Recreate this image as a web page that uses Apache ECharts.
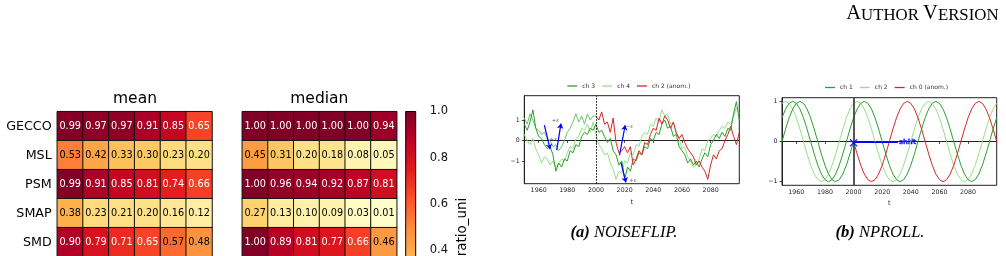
<!DOCTYPE html>
<html><head><meta charset="utf-8">
<script src="https://cdn.jsdelivr.net/npm/echarts@6/dist/echarts.min.js"></script>
<style>html,body{margin:0;padding:0;background:#fff}#c{width:1006px;height:256px}</style>
</head><body><div id="c"></div>
<script>
// ---------- heatmap data ----------
const rows = ['GECCO', 'MSL', 'PSM', 'SMAP', 'SMD'];
const cols = ['c0', 'c1', 'c2', 'c3', 'c4', 'c5'];
const meanVals = [
  [0.99, 0.97, 0.97, 0.91, 0.85, 0.65],
  [0.53, 0.42, 0.33, 0.30, 0.23, 0.20],
  [0.99, 0.91, 0.85, 0.81, 0.74, 0.66],
  [0.38, 0.23, 0.21, 0.20, 0.16, 0.12],
  [0.90, 0.79, 0.71, 0.65, 0.57, 0.48]
];
const medianVals = [
  [1.00, 1.00, 1.00, 1.00, 1.00, 0.94],
  [0.45, 0.31, 0.20, 0.18, 0.08, 0.05],
  [1.00, 0.96, 0.94, 0.92, 0.87, 0.81],
  [0.27, 0.13, 0.10, 0.09, 0.03, 0.01],
  [1.00, 0.89, 0.81, 0.77, 0.66, 0.46]
];
const cbarMin = 0, cbarMax = 1, cbarStep = 0.2;
const ylorrd = ['#ffffcc', '#ffeda0', '#fed976', '#feb24c', '#fd8d3c', '#fc4e2a', '#e31a1c', '#bd0026', '#800026'];

// ---------- (a) NOISEFLIP ----------
const yearsA = [1950,1952,1954,1956,1958,1960,1962,1964,1966,1968,1970,1972,1974,1976,1978,1980,1982,1984,1986,1988,1990,1992,1994,1996,1998,2000,
  2002,2004,2006,2008,2010,2012,2014,2016,2018,2020,2022,2024,2026,2028,2030,2032,2034,2036,2038,2040,2042,2044,2046,2048,2050,
  2052,2054,2056,2058,2060,2062,2064,2066,2068,2070,2072,2074,2076,2078,2080,2082,2084,2086,2088,2090,2092,2094,2096,2098,2100];
const ch3A = [0.8,0.5,0.9,1.5,0.6,0.2,0.1,-0.2,-0.4,-0.3,-0.7,-1.5,-1.1,-1.3,-0.9,-1.0,-0.5,-0.6,-0.2,-0.3,0.2,0.4,0.3,0.6,0.5,0.8,
  0.4,0.5,0.2,-0.1,0.1,-0.5,-0.7,-1.2,-1.0,-1.9,-1.3,-1.5,-0.9,-1.0,-0.6,-0.7,-0.3,-0.4,0.1,0.0,0.4,0.3,0.8,1.0,0.6,
  0.7,0.2,0.3,-0.3,-0.5,-0.7,-1.1,-0.9,-1.2,-1.0,-1.3,-0.9,-0.6,-0.8,-0.2,0.0,0.3,0.1,0.4,0.2,0.6,0.5,1.3,1.9,1.0];
const ch4A = [0.3,0.0,-0.2,0.1,-0.4,-0.7,-1.1,-0.8,-0.9,-1.2,-1.0,-1.3,-1.1,-0.9,-1.0,-0.6,-0.3,-0.4,0.1,0.2,0.6,0.5,0.8,0.4,0.9,0.3,
  -0.2,-0.4,-0.7,-0.6,-1.1,-1.4,-1.9,-1.5,-1.6,-1.0,-1.1,-0.6,-0.7,-0.2,-0.3,0.2,0.4,0.3,0.8,0.7,1.1,0.9,1.5,1.2,1.3,
  0.8,0.9,0.3,0.1,-0.4,-0.3,-0.8,-1.0,-1.3,-1.2,-0.9,-0.4,-0.5,0.0,0.1,0.3,0.2,0.5,0.7,0.6,0.9,0.8,1.2,1.6,1.3];
const ch2PreA = [1.1,0.8,1.3,1.0,0.6,0.5,0.3,0.4,0.1,0.0,-0.3,-0.2,-0.5,-0.3,0.0,0.4,0.6,0.9,1.3,0.9,1.2,0.8,1.3,1.0,1.2,1.2];
const ch2AnomA = [1.2,1.0,1.4,0.8,0.9,0.4,1.1,-0.1,-0.6,-0.5,-0.3,-0.6,-0.3,-1.2,-0.9,-0.5,-0.7,-0.1,-0.2,0.3,0.6,
  0.5,1.1,0.8,1.2,1.0,0.6,0.9,0.4,0.1,0.3,-0.1,-0.4,-0.6,-0.8,-1.2,-1.0,-1.3,-1.5,-1.9,-1.2,
  -0.7,-0.9,-0.5,-0.4,0.0,0.3,0.7,0.2,-0.2,0.4];
const anomStart = 2000;
const arrowsA = [[1964.0, 0.75, 1968.0, -0.42], [1972.6, -0.47, 1975.6, 0.83], [2016.4, -0.72, 2020.4, 0.75], [2017.4, -1.07, 2020.9, -2.05]];
const epsLabelsA = [[1970.3, 0.07, '+ε'], [1971.8, 0.98, '+ε'], [2023.4, 0.67, '−ε'], [2025.8, -1.98, '+ε']];
const xTicks = [1960, 1980, 2000, 2020, 2040, 2060, 2080];
const yTicks = [-1, 0, 1];

// ---------- (b) NPROLL ----------
const yearsB = [1950,1952.5,1955,1957.5,1960,1962.5,1965,1967.5,1970,1972.5,1975,1977.5,1980,1982.5,1985,1987.5,1990,1992.5,1995,1997.5,2000,
  2002.5,2005,2007.5,2010,2012.5,2015,2017.5,2020,2022.5,2025,2027.5,2030,2032.5,2035,2037.5,2040,2042.5,2045,2047.5,2050,
  2052.5,2055,2057.5,2060,2062.5,2065,2067.5,2070,2072.5,2075,2077.5,2080,2082.5,2085,2087.5,2090,2092.5,2095,2097.5,2100];
const ch2B = [0.95,1.00,0.95,0.81,0.59,0.31,0.00,-0.31,-0.59,-0.81,-0.95,-1.00,-0.95,-0.81,-0.59,-0.31,0.00,0.31,0.59,0.81,0.95,
  1.00,0.95,0.81,0.59,0.31,0.00,-0.31,-0.59,-0.81,-0.95,-1.00,-0.95,-0.81,-0.59,-0.31,0.00,0.31,0.59,0.81,0.95,
  1.00,0.95,0.81,0.59,0.31,0.00,-0.31,-0.59,-0.81,-0.95,-1.00,-0.95,-0.81,-0.59,-0.31,0.00,0.31,0.59,0.81,0.95];
const ch1B = [0.59,0.81,0.95,1.00,0.95,0.81,0.59,0.31,0.00,-0.31,-0.59,-0.81,-0.95,-1.00,-0.95,-0.81,-0.59,-0.31,0.00,0.31,0.59,
  0.81,0.95,1.00,0.95,0.81,0.59,0.31,0.00,-0.31,-0.59,-0.81,-0.95,-1.00,-0.95,-0.81,-0.59,-0.31,0.00,0.31,0.59,
  0.81,0.95,1.00,0.95,0.81,0.59,0.31,0.00,-0.31,-0.59,-0.81,-0.95,-1.00,-0.95,-0.81,-0.59,-0.31,0.00,0.31,0.59];
const ch0PreB = [0.00,0.31,0.59,0.81,0.95,1.00,0.95,0.81,0.59,0.31,0.00,-0.31,-0.59,-0.81,-0.95,-1.00,-0.95,-0.81,-0.59,-0.31,0.00];
const ch0AnomB = [0.00,-0.31,-0.59,-0.81,-0.95,-1.00,-0.95,-0.81,-0.59,-0.31,0.00,0.31,0.59,0.81,0.95,1.00,0.95,0.81,0.59,0.31,0.00,
  -0.31,-0.59,-0.81,-0.95,-1.00,-0.95,-0.81,-0.59,-0.31,0.00,0.31,0.59,0.81,0.95,1.00,0.95,0.81,0.59,0.31,0.00];
const shiftB = {x: 2000, y: -0.03, textX: 2031};

// ---------- build ----------
const zip = (xs, ys) => ys.map((v, i) => [xs[i], v]);
function heatData(vals) {
  const out = [];
  vals.forEach((row, r) => row.forEach((v, c) => out.push({value: [c, r, v], label: {color: v > 0.6 ? '#fff' : '#000'}})));
  return out;
}
const FONT = 'DejaVu Sans';
const DG = '#2ca02c', LG = '#98df8a', RD = '#d62728', BL = '#0000ff';
const minus = v => String(v).replace('-', '\u2212');

function lineAxesX(gi) {
  return {gridIndex: gi, type: 'value', min: 1950, max: 2100,
    axisLine: {show: true, lineStyle: {color: '#222', width: 1}},
    axisTick: {show: true, length: 2.5, customValues: xTicks, lineStyle: {color: '#222', width: 0.8}},
    axisLabel: {customValues: xTicks, fontSize: 6.3, color: '#222', margin: 4, fontFamily: FONT, formatter: v => String(v)},
    splitLine: {show: false},
    name: 't', nameLocation: 'middle', nameGap: 15, nameTextStyle: {fontSize: 6.5, color: '#222', fontFamily: FONT}};
}
function lineAxesY(gi, mn, mx) {
  return {gridIndex: gi, type: 'value', min: mn, max: mx,
    axisLine: {show: true, lineStyle: {color: '#222', width: 1}},
    axisTick: {show: true, length: 2.5, customValues: yTicks, lineStyle: {color: '#222', width: 0.8}},
    axisLabel: {customValues: yTicks, fontSize: 6.3, color: '#222', margin: 4.5, fontFamily: FONT, formatter: minus},
    splitLine: {show: false}};
}
function lineSeries(name, data, color, xi, extra) {
  return Object.assign({type: 'line', name, data, xAxisIndex: xi, yAxisIndex: xi, symbol: 'none',
    lineStyle: {color, width: 1}, itemStyle: {color}, emphasis: {disabled: true}, silent: true}, extra || {});
}
const OB = {outerBoundsMode: 'none', containLabel: false};

const graphics = [
  {type: 'text', x: 135, y: 99.3, style: {text: 'mean', fontSize: 15.5, fontFamily: FONT, fill: '#000', align: 'center', verticalAlign: 'middle'}},
  {type: 'text', x: 319.3, y: 99.3, style: {text: 'median', fontSize: 15.5, fontFamily: FONT, fill: '#000', align: 'center', verticalAlign: 'middle'}},
  {type: 'text', x: 462, y: 227, rotation: Math.PI / 2, style: {text: 'ratio_uni', fontSize: 13.5, fontFamily: FONT, fill: '#000', align: 'center', verticalAlign: 'middle'}},
  {type: 'text', x: 624, y: 232.7, style: {text: '{b|(a)}{i| NOISEFLIP.}', fill: '#000', align: 'center', verticalAlign: 'middle',
    rich: {b: {fontFamily: 'Liberation Serif', fontStyle: 'italic', fontWeight: 'bold', fontSize: 16.5},
           i: {fontFamily: 'Liberation Serif', fontStyle: 'italic', fontSize: 16.5}}}},
  {type: 'text', x: 880, y: 232.7, style: {text: '{b|(b)}{i| NPROLL.}', fill: '#000', align: 'center', verticalAlign: 'middle',
    rich: {b: {fontFamily: 'Liberation Serif', fontStyle: 'italic', fontWeight: 'bold', fontSize: 16.5},
           i: {fontFamily: 'Liberation Serif', fontStyle: 'italic', fontSize: 16.5}}}},
  {type: 'text', x: 998.5, y: 13.5, style: {text: '{L|A}{s|UTHOR }{L|V}{s|ERSION}', fill: '#000', align: 'right', verticalAlign: 'middle',
    rich: {L: {fontFamily: 'Liberation Serif', fontSize: 20.5, verticalAlign: 'bottom'},
           s: {fontFamily: 'Liberation Serif', fontSize: 16.8, verticalAlign: 'bottom'}}}}
];

const option = {
  animation: false,
  textStyle: {fontFamily: FONT},
  grid: [
    Object.assign({left: 57.3, top: 111.7, width: 154.7, height: 145}, OB),
    Object.assign({left: 242.3, top: 111.7, width: 154.4, height: 145}, OB),
    Object.assign({left: 405.7, top: 111.5, width: 10, height: 231.5, show: true, borderColor: '#000', borderWidth: 1, backgroundColor: 'transparent', z: 10}, OB),
    Object.assign({left: 524.3, top: 95.7, width: 215, height: 88, show: true, borderColor: '#222', borderWidth: 1, backgroundColor: 'transparent'}, OB),
    Object.assign({left: 782, top: 97.7, width: 214.7, height: 87.6, show: true, borderColor: '#222', borderWidth: 1, backgroundColor: 'transparent'}, OB)
  ],
  xAxis: [
    {gridIndex: 0, type: 'category', data: cols, show: false},
    {gridIndex: 1, type: 'category', data: cols, show: false},
    {gridIndex: 2, type: 'value', show: false, min: 0, max: 1},
    lineAxesX(3),
    lineAxesX(4)
  ],
  yAxis: [
    {gridIndex: 0, type: 'category', data: rows, inverse: true, axisLine: {show: false}, axisTick: {show: false},
      axisLabel: {fontSize: 12.7, color: '#000', margin: 5.6, fontFamily: FONT}},
    {gridIndex: 1, type: 'category', data: rows, inverse: true, axisLine: {show: false}, axisTick: {show: false}, axisLabel: {show: false}},
    {gridIndex: 2, type: 'value', min: cbarMin, max: cbarMax, interval: cbarStep, position: 'right',
      axisLine: {show: false}, axisTick: {show: true, length: 4.5, lineStyle: {color: '#000', width: 1}},
      axisLabel: {fontSize: 11.5, color: '#111', margin: 14, fontFamily: FONT, formatter: v => v.toFixed(1)}, splitLine: {show: false}},
    lineAxesY(3, -2.11, 2.19),
    lineAxesY(4, -1.09, 1.09)
  ],
  visualMap: {type: 'continuous', show: false, seriesIndex: [0, 1], dimension: 2, min: cbarMin, max: cbarMax,
    inRange: {color: ylorrd}},
  legend: [
    {data: ['ch 3', 'ch 4', 'ch 2 (anom.)'], left: 567.3, top: 83, padding: 0, itemGap: 7, itemWidth: 10, itemHeight: 1.3, icon: 'rect',
      textStyle: {fontSize: 6, color: '#333', fontFamily: FONT}, selectedMode: false},
    {data: ['ch 1', 'ch 2', 'ch 0 (anom.)'], left: 825, top: 84.5, padding: 0, itemGap: 7, itemWidth: 10, itemHeight: 1.3, icon: 'rect',
      textStyle: {fontSize: 6, color: '#333', fontFamily: FONT}, selectedMode: false}
  ],
  series: [
    {type: 'heatmap', xAxisIndex: 0, yAxisIndex: 0, data: heatData(meanVals), emphasis: {disabled: true},
      itemStyle: {borderColor: '#111', borderWidth: 1},
      label: {show: true, fontSize: 9.7, fontFamily: FONT, formatter: p => p.value[2].toFixed(2)}},
    {type: 'heatmap', xAxisIndex: 1, yAxisIndex: 1, data: heatData(medianVals), emphasis: {disabled: true},
      itemStyle: {borderColor: '#111', borderWidth: 1},
      label: {show: true, fontSize: 9.7, fontFamily: FONT, formatter: p => p.value[2].toFixed(2)}},
    // (a)
    lineSeries('ch 2 (a)', zip(yearsA.slice(0, ch2PreA.length), ch2PreA), '#6cc36c', 3),
    lineSeries('ch 4', zip(yearsA, ch4A), LG, 3),
    lineSeries('ch 3', zip(yearsA, ch3A), DG, 3, {
      markLine: {silent: true, symbol: 'none', label: {show: false},
        lineStyle: {color: '#000', type: [1.5, 1.5], width: 1}, data: [{xAxis: anomStart}]}}),
    lineSeries('ch 2 (anom.)', zip(yearsA.slice(yearsA.indexOf(anomStart)), ch2AnomA), RD, 3, {
      markLine: {silent: true, symbol: ['none', 'arrow'], symbolSize: 5, label: {show: false},
        lineStyle: {color: BL, type: 'solid', width: 1.2},
        data: arrowsA.map(a => [{coord: [a[0], a[1]]}, {coord: [a[2], a[3]]}])}}),
    {type: 'scatter', xAxisIndex: 3, yAxisIndex: 3, silent: true, symbolSize: 1, itemStyle: {color: 'transparent'},
      data: epsLabelsA, label: {show: true, position: 'inside', formatter: p => p.value[2], fontSize: 5.5, color: '#333', fontFamily: FONT}},
    // (b)
    lineSeries('ch 2', zip(yearsB, ch2B), LG, 4),
    lineSeries('ch 1', zip(yearsB, ch1B), DG, 4, {
      markLine: {silent: true, symbol: 'none', label: {show: false},
        lineStyle: {color: '#444', type: 'solid', width: 1.8}, data: [{xAxis: anomStart}]}}),
    lineSeries('ch 0', zip(yearsB.slice(0, ch0PreB.length), ch0PreB), DG, 4),
    lineSeries('ch 0 (anom.)', zip(yearsB.slice(yearsB.indexOf(anomStart)), ch0AnomB), RD, 4, {
      markLine: {silent: true, symbol: 'none', label: {show: false},
        lineStyle: {color: BL, type: 'solid', width: 1.2},
        data: [[{coord: [shiftB.x, shiftB.y]}, {coord: [shiftB.textX, shiftB.y]}]]}}),
    {type: 'scatter', xAxisIndex: 4, yAxisIndex: 4, silent: true, z: 5,
      symbol: 'path://M0,1.2L1.2,0L10,8.8L8.8,10ZM8.8,0L10,1.2L1.2,10L0,8.8Z', symbolSize: 8,
      itemStyle: {color: BL}, data: [[shiftB.x, shiftB.y]]},
    {type: 'scatter', xAxisIndex: 4, yAxisIndex: 4, silent: true, symbolSize: 1, itemStyle: {color: 'transparent'},
      data: [[shiftB.textX, shiftB.y]],
      label: {show: true, position: 'right', distance: 0.5, formatter: 'shift', fontSize: 6.8, fontWeight: 'bold', color: BL,
        textBorderColor: BL, textBorderWidth: 0.4, fontFamily: FONT}}
  ],
  graphic: graphics
};
const chart = echarts.init(document.getElementById('c'), null, {renderer: 'canvas'});
chart.setOption(option);

// colorbar gradient, placed through the colorbar axis scale
const yTop = chart.convertToPixel({yAxisIndex: 2}, cbarMax);
const yBot = chart.convertToPixel({yAxisIndex: 2}, cbarMin);
const stops = ylorrd.map((c, i) => ({offset: 1 - i / (ylorrd.length - 1), color: c}));
chart.setOption({graphic: graphics.concat([{
  type: 'rect', z: 1, shape: {x: 405.7, y: yTop, width: 10, height: yBot - yTop},
  style: {fill: new echarts.graphic.LinearGradient(0, 0, 0, 1, stops.slice().reverse())}
}])});
</script>
</body></html>
